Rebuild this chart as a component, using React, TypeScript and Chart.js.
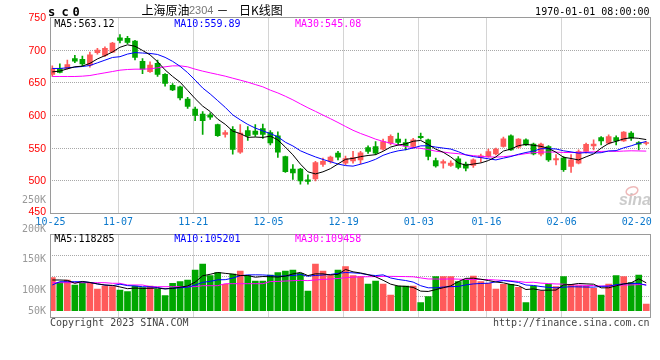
import { useEffect, useRef } from 'react';
import { Chart, registerables } from 'chart.js';

Chart.register(...registerables);

// ---------- data ----------
const dates = [
  '10-25', '10-26', '10-27', '10-28', '10-31',
  '11-01', '11-02', '11-03', '11-04', '11-07', '11-08', '11-09', '11-10', '11-11', '11-14', '11-15', '11-16', '11-17', '11-18', '11-21', '11-22', '11-23', '11-24', '11-25', '11-28', '11-29', '11-30',
  '12-01', '12-02', '12-05', '12-06', '12-07', '12-08', '12-09', '12-12', '12-13', '12-14', '12-15', '12-16', '12-19', '12-20', '12-21', '12-22', '12-23', '12-26', '12-27', '12-28', '12-29', '12-30',
  '01-03', '01-04', '01-05', '01-06', '01-09', '01-10', '01-11', '01-12', '01-13', '01-16', '01-17', '01-18', '01-19', '01-20', '01-30', '01-31',
  '02-01', '02-02', '02-03', '02-06', '02-07', '02-08', '02-09', '02-10', '02-13', '02-14', '02-15', '02-16', '02-17', '02-20', '02-21',
];

const opens = [
  663, 672, 672, 687, 686, 677, 696, 692, 697, 719,
  718, 714, 683, 667, 680, 663, 646, 644, 625, 610,
  602, 601, 586, 571, 579, 544, 577, 576, 580, 574,
  569, 537, 518, 518, 501.5, 503, 525, 529.6, 542.4, 527,
  530.6, 532, 551, 552.6, 548.5, 557.6, 564, 558.7, 552.6, 568,
  562.8, 531, 527, 523.5, 533.7, 525.5, 523.5, 535.7, 537.2, 541.3,
  552.6, 568.9, 551.5, 562.8, 556.1, 540.8, 552.6, 532, 534.7, 522,
  527, 544.9, 553.6, 566.2, 557.7, 566.2, 561.2, 573, 558.7, 557.2,
];
const highs = [
  676, 679, 685, 692, 691, 697, 703, 705, 712, 724,
  721, 715, 687, 682, 685, 664, 649, 645, 628, 613,
  606, 604, 587, 577, 583, 586, 583, 586, 587, 577,
  575, 538, 525, 519, 509, 530, 535, 538, 545, 538,
  545, 545, 553.6, 560, 564, 570.4, 573, 564, 565, 573,
  564, 534.7, 532, 530.6, 537.2, 528.6, 533.7, 540.8, 548.5, 550,
  566.8, 570.4, 564.8, 564.3, 557.7, 557.7, 554, 540, 537.2, 540,
  547.5, 557.7, 562.8, 567.9, 570.4, 568.9, 575.5, 575.5, 560.2, 560.2,
];
const lows = [
  660, 665, 671, 681, 676, 674, 694, 690, 696, 711,
  710, 685, 664, 666, 660, 645, 638, 624, 611, 592,
  571, 594, 568, 567, 541, 542, 562, 568, 565, 555,
  536, 513, 502, 495, 495, 500, 522, 527, 532, 524.5,
  527, 526, 542, 540, 547, 555, 555, 547.5, 550, 563.8,
  532, 521, 519.4, 522, 518.4, 515.3, 520.4, 528.6, 536.2, 539.8,
  551.5, 546.4, 550, 554, 539.8, 538.3, 529.6, 524.5, 514.3, 512.8,
  525.7, 542.4, 547.5, 555, 556.1, 555, 560.2, 561.7, 547.5, 555,
];
const closes = [
  672, 666, 678, 683, 679, 693, 700, 703, 711, 715,
  712, 689, 671, 677, 663, 649, 639, 627, 614, 600,
  592, 597.5, 569, 574, 548, 573, 569, 571, 571, 558,
  544, 514, 512, 500, 499, 528, 530, 536.2, 536.2, 534,
  535.7, 543, 545, 542.4, 560, 568, 558.7, 553.6, 562.8, 566,
  537.2, 523, 529.6, 527, 520.4, 519.4, 532, 538.2, 544.9, 548.5,
  564.3, 547.5, 563.8, 555.1, 541.3, 556.1, 532.1, 534, 516.9, 532,
  544.9, 556, 556.1, 561.2, 567.9, 561.2, 574.5, 565.3, 556.1, 558.7,
];
const volumes = [
  129900, 118700, 124300, 112200, 118700, 117000, 102500, 109800, 108100, 100100,
  96000, 109800, 105700, 109800, 101800, 86300, 116300, 120200, 124300, 148500,
  163000, 134700, 142000, 113900, 138800, 146100, 134700, 121900, 121900, 136400,
  142000, 146100, 148500, 140500, 97700, 163000, 146100, 134700, 148500, 156500,
  134700, 132300, 114600, 121900, 114600, 88000, 109800, 109800, 109800, 69400,
  83900, 132300, 132300, 132300, 120200, 124300, 134000, 120200, 116300, 102500,
  113900, 113900, 106600, 69400, 109800, 97700, 114600, 108100, 132300, 113900,
  110500, 109800, 104200, 88000, 114600, 134700, 132300, 117800, 136400, 66200,
];

// moving-average values before enough in-window data exists
const ma5Lead = [666.8, 667.9, 671.4, 674.5];
const ma10Lead = [672, 672, 673, 674, 675, 676.5, 680.6, 684.7, 688.8];
const ma30Lead = [
  659.7, 659.7, 659.7, 659.7, 660.2, 661.2, 663.3, 665.3, 667.3, 669.4,
  670.4, 670.9, 670.9, 671.4, 673, 674.5, 676, 676, 674.5, 670.9,
  667.9, 665.3, 662.8, 660.2, 657.1, 654.1, 651, 647.4, 643.9,
];
const volMa5Lead = [124300, 124300, 123500, 116300];
const volMa10Lead = [112200, 120200, 120200, 120200, 120200, 118500, 114600, 112200, 110500];
const volMa30Lead = [
  117800, 117800, 117800, 117800, 117800, 117800, 117800, 117800, 116300, 116300,
  112200, 112200, 112200, 108100, 108100, 108100, 108100, 108100, 108100, 108100,
  110500, 110500, 110500, 115400, 115400, 115400, 115400, 115400, 115400,
];

const xTickDates = ['10-25', '11-07', '11-21', '12-05', '12-19', '01-03', '01-16', '02-06', '02-20'];
const priceTicks = [750, 700, 650, 600, 550, 500, 450];
const volTickLabels = ['250K', '200K', '150K', '100K', '50K'];
const priceMaTexts = ['MA5:563.12', 'MA10:559.89', 'MA30:545.08'];
const volMaTexts = ['MA5:118285', 'MA10:105201', 'MA30:109458'];
const titleCode = 'sc0';
const titleParts = ['上海原油', '2304', '－', '日K线图'];
const dateTimeText = '1970-01-01 08:00:00';
const copyrightText = 'Copyright 2023 SINA.COM';
const urlText = 'http://finance.sina.com.cn';

// ---------- style ----------
const RED = '#ff5a5a';
const GREEN = '#00a600';
const MA_COLORS = ['#000000', '#0000ff', '#ff00ff'];
const GRID = '#a8a8a8';
const BORDER = '#9a9a9a';
const MONO = '10px "DejaVu Sans Mono"';
const X_MIN = -0.306;
const X_MAX = 79.5;
const VOL_BASE = 50000;
const VOL_LABEL_BASELINES = [202.7, 232.3, 262.3, 293.3, 313.7];

function movingAverage(values: number[], n: number, lead: number[]): number[] {
  return values.map((_, i) => {
    if (i < n - 1) return lead[i];
    let s = 0;
    for (let k = i - n + 1; k <= i; k++) s += values[k];
    return s / n;
  });
}

const candleColors = closes.map((c, i) => (c >= opens[i] ? RED : GREEN));

function text(ctx: CanvasRenderingContext2D, t: string, x: number, y: number, font: string, color: string, align: CanvasTextAlign = 'left', baseline: CanvasTextBaseline = 'alphabetic') {
  ctx.font = font;
  ctx.fillStyle = color;
  ctx.textAlign = align;
  ctx.textBaseline = baseline;
  ctx.fillText(t, x, y);
}

function dottedGrid(chart: any, ys: number[]) {
  const { ctx, chartArea } = chart;
  const xs = chart.scales.x;
  ctx.save();
  ctx.strokeStyle = GRID;
  ctx.lineWidth = 1;
  ctx.setLineDash([1, 1]);
  ctx.beginPath();
  ys.forEach((y) => {
    const py = Math.floor(y) + 0.5;
    ctx.moveTo(chartArea.left, py);
    ctx.lineTo(chartArea.right, py);
  });
  xTickDates.slice(1, -1).forEach((d) => {
    const idx = dates.indexOf(d);
    const px = Math.floor(xs.getPixelForValue(idx - 0.25)) + 0.5;
    ctx.moveTo(px, chartArea.top);
    ctx.lineTo(px, chartArea.bottom);
  });
  ctx.stroke();
  ctx.restore();
}

function frame(chart: any) {
  const { ctx, chartArea } = chart;
  ctx.save();
  ctx.strokeStyle = BORDER;
  ctx.lineWidth = 1;
  ctx.setLineDash([]);
  ctx.strokeRect(Math.floor(chartArea.left) + 0.5, Math.floor(chartArea.top) + 0.5,
    Math.round(chartArea.right - chartArea.left), Math.round(chartArea.bottom - chartArea.top));
  ctx.restore();
}

const pricePlugin = {
  id: 'pricePanel',
  beforeDatasetsDraw(chart: any) {
    const ys = chart.scales.y;
    dottedGrid(chart, priceTicks.slice(1, -1).map((v) => ys.getPixelForValue(v)));
  },
  afterDraw(chart: any) {
    const { ctx } = chart;
    const ys = chart.scales.y;
    const xs = chart.scales.x;
    frame(chart);
    ctx.save();
    priceTicks.forEach((v) => {
      const y = Math.min(Math.max(ys.getPixelForValue(v), 16), 211.5);
      text(ctx, String(v), 46, y + 0.5, '10.5px "Liberation Sans"', '#ff0000', 'right', 'middle');
    });
    xTickDates.forEach((d) => {
      const idx = dates.indexOf(d);
      text(ctx, d, xs.getPixelForValue(idx - 0.25), 225, MONO, '#0a78cc', 'center');
    });
    const codeX = [48, 61.5, 72.5];
    titleCode.split('').forEach((ch, i) => text(ctx, ch, codeX[i], 16, 'bold 12px "DejaVu Sans Mono"', '#000'));
    text(ctx, titleParts[0], 141.5, 10, '12px "Noto Sans CJK SC"', '#000', 'left', 'middle');
    text(ctx, titleParts[1], 189, 10.5, '11px "Liberation Sans"', '#777', 'left', 'middle');
    text(ctx, titleParts[2], 216.5, 10, '12px "Noto Sans CJK SC"', '#000', 'left', 'middle');
    text(ctx, titleParts[3], 239, 10, '12px "Noto Sans CJK SC"', '#000', 'left', 'middle');
    text(ctx, dateTimeText, 649.5, 15, MONO, '#000', 'right');
    const maX = [54.3, 174.3, 295];
    priceMaTexts.forEach((t, i) => text(ctx, t, maX[i], 27, MONO, MA_COLORS[i]));
    // volume-axis labels (the reference draws them in the left margin)
    volTickLabels.forEach((t, i) => text(ctx, t, 46, VOL_LABEL_BASELINES[i], MONO, '#999', 'right'));
    // sina watermark
    ctx.globalAlpha = 0.55;
    ctx.strokeStyle = '#e08080';
    ctx.lineWidth = 1.5;
    ctx.beginPath();
    ctx.ellipse(632, 191, 6, 4, -0.3, 0, Math.PI * 2);
    ctx.stroke();
    text(ctx, 'sina', 619, 205, 'italic bold 16px "Liberation Sans"', '#a0a0a0');
    ctx.restore();
  },
};

const volumePlugin = {
  id: 'volumePanel',
  beforeDatasetsDraw(chart: any) {
    const { chartArea } = chart;
    const h = chartArea.bottom - chartArea.top;
    dottedGrid(chart, [1, 2, 3].map((k) => chartArea.top + (h * k) / 4));
  },
  afterDraw(chart: any) {
    const { ctx } = chart;
    frame(chart);
    ctx.save();
    const maX = [54.3, 174.3, 295];
    volMaTexts.forEach((t, i) => text(ctx, t, maX[i], 242, MONO, MA_COLORS[i]));
    text(ctx, copyrightText, 50, 326, MONO, '#444');
    text(ctx, urlText, 649.5, 326, MONO, '#444', 'right');
    ctx.restore();
  },
};

const lineDs = (label: string, values: number[], color: string) => ({
  type: 'line' as const,
  label,
  data: values.map((v, i) => ({ x: i, y: v })),
  borderColor: color,
  borderWidth: 1,
  pointRadius: 0,
  tension: 0,
  fill: false,
  order: 1,
});

const baseOptions = (padding: any, y: any) => ({
  animation: false as const,
  responsive: false,
  events: [] as any[],
  layout: { padding },
  scales: {
    x: { type: 'linear' as const, min: X_MIN, max: X_MAX, offset: false, display: false },
    y,
  },
  plugins: { legend: { display: false }, tooltip: { enabled: false } },
});

export default function App() {
  const priceRef = useRef<HTMLCanvasElement | null>(null);
  const volRef = useRef<HTMLCanvasElement | null>(null);

  useEffect(() => {
    document.body.style.margin = '0';
    const ma5 = movingAverage(closes, 5, ma5Lead);
    const ma10 = movingAverage(closes, 10, ma10Lead);
    const ma30 = movingAverage(closes, 30, ma30Lead);
    const vma5 = movingAverage(volumes, 5, volMa5Lead);
    const vma10 = movingAverage(volumes, 10, volMa10Lead);
    const vma30 = movingAverage(volumes, 30, volMa30Lead);

    const volChart = new Chart(volRef.current as HTMLCanvasElement, {
      type: 'bar',
      data: {
        datasets: [
          lineDs('VMA5', vma5, MA_COLORS[0]),
          lineDs('VMA10', vma10, MA_COLORS[1]),
          lineDs('VMA30', vma30, MA_COLORS[2]),
          {
            type: 'bar',
            label: 'volume',
            data: volumes.map((v, i) => ({ x: i, y: v })),
            backgroundColor: candleColors,
            borderWidth: 0,
            barThickness: 6,
            base: VOL_BASE,
            grouped: false,
            order: 5,
          },
        ] as any,
      },
      options: baseOptions(
        { left: 50, top: 234.5, right: 10, bottom: 42.5 },
        { type: 'linear', min: 33544, max: 234404, display: false },
      ) as any,
      plugins: [volumePlugin],
    });

    const priceChart = new Chart(priceRef.current as HTMLCanvasElement, {
      type: 'bar',
      data: {
        datasets: [
          lineDs('MA5', ma5, MA_COLORS[0]),
          lineDs('MA10', ma10, MA_COLORS[1]),
          lineDs('MA30', ma30, MA_COLORS[2]),
          {
            type: 'bar',
            label: 'body',
            data: opens.map((o, i) => ({ x: i, y: [o, closes[i]] })),
            backgroundColor: candleColors,
            borderWidth: 0,
            barThickness: 5,
            minBarLength: 1,
            grouped: false,
            order: 5,
          },
          {
            type: 'bar',
            label: 'wick',
            data: lows.map((l, i) => ({ x: i, y: [l, highs[i]] })),
            backgroundColor: candleColors,
            borderWidth: 0,
            barThickness: 1,
            grouped: false,
            order: 6,
          },
        ] as any,
      },
      options: baseOptions(
        { left: 50, top: 17.5, right: 10, bottom: 146.5 },
        { type: 'linear', min: 450, max: 750, display: false },
      ) as any,
      plugins: [pricePlugin],
    });

    return () => {
      priceChart.destroy();
      volChart.destroy();
    };
  }, []);

  const style: any = { position: 'absolute', left: 0, top: 0, width: 660, height: 360 };
  return (
    <div style={{ position: 'relative', width: 660, height: 360, background: '#fff' }}>
      <canvas ref={volRef} width={660} height={360} style={style} />
      <canvas ref={priceRef} width={660} height={360} style={style} />
    </div>
  );
}
